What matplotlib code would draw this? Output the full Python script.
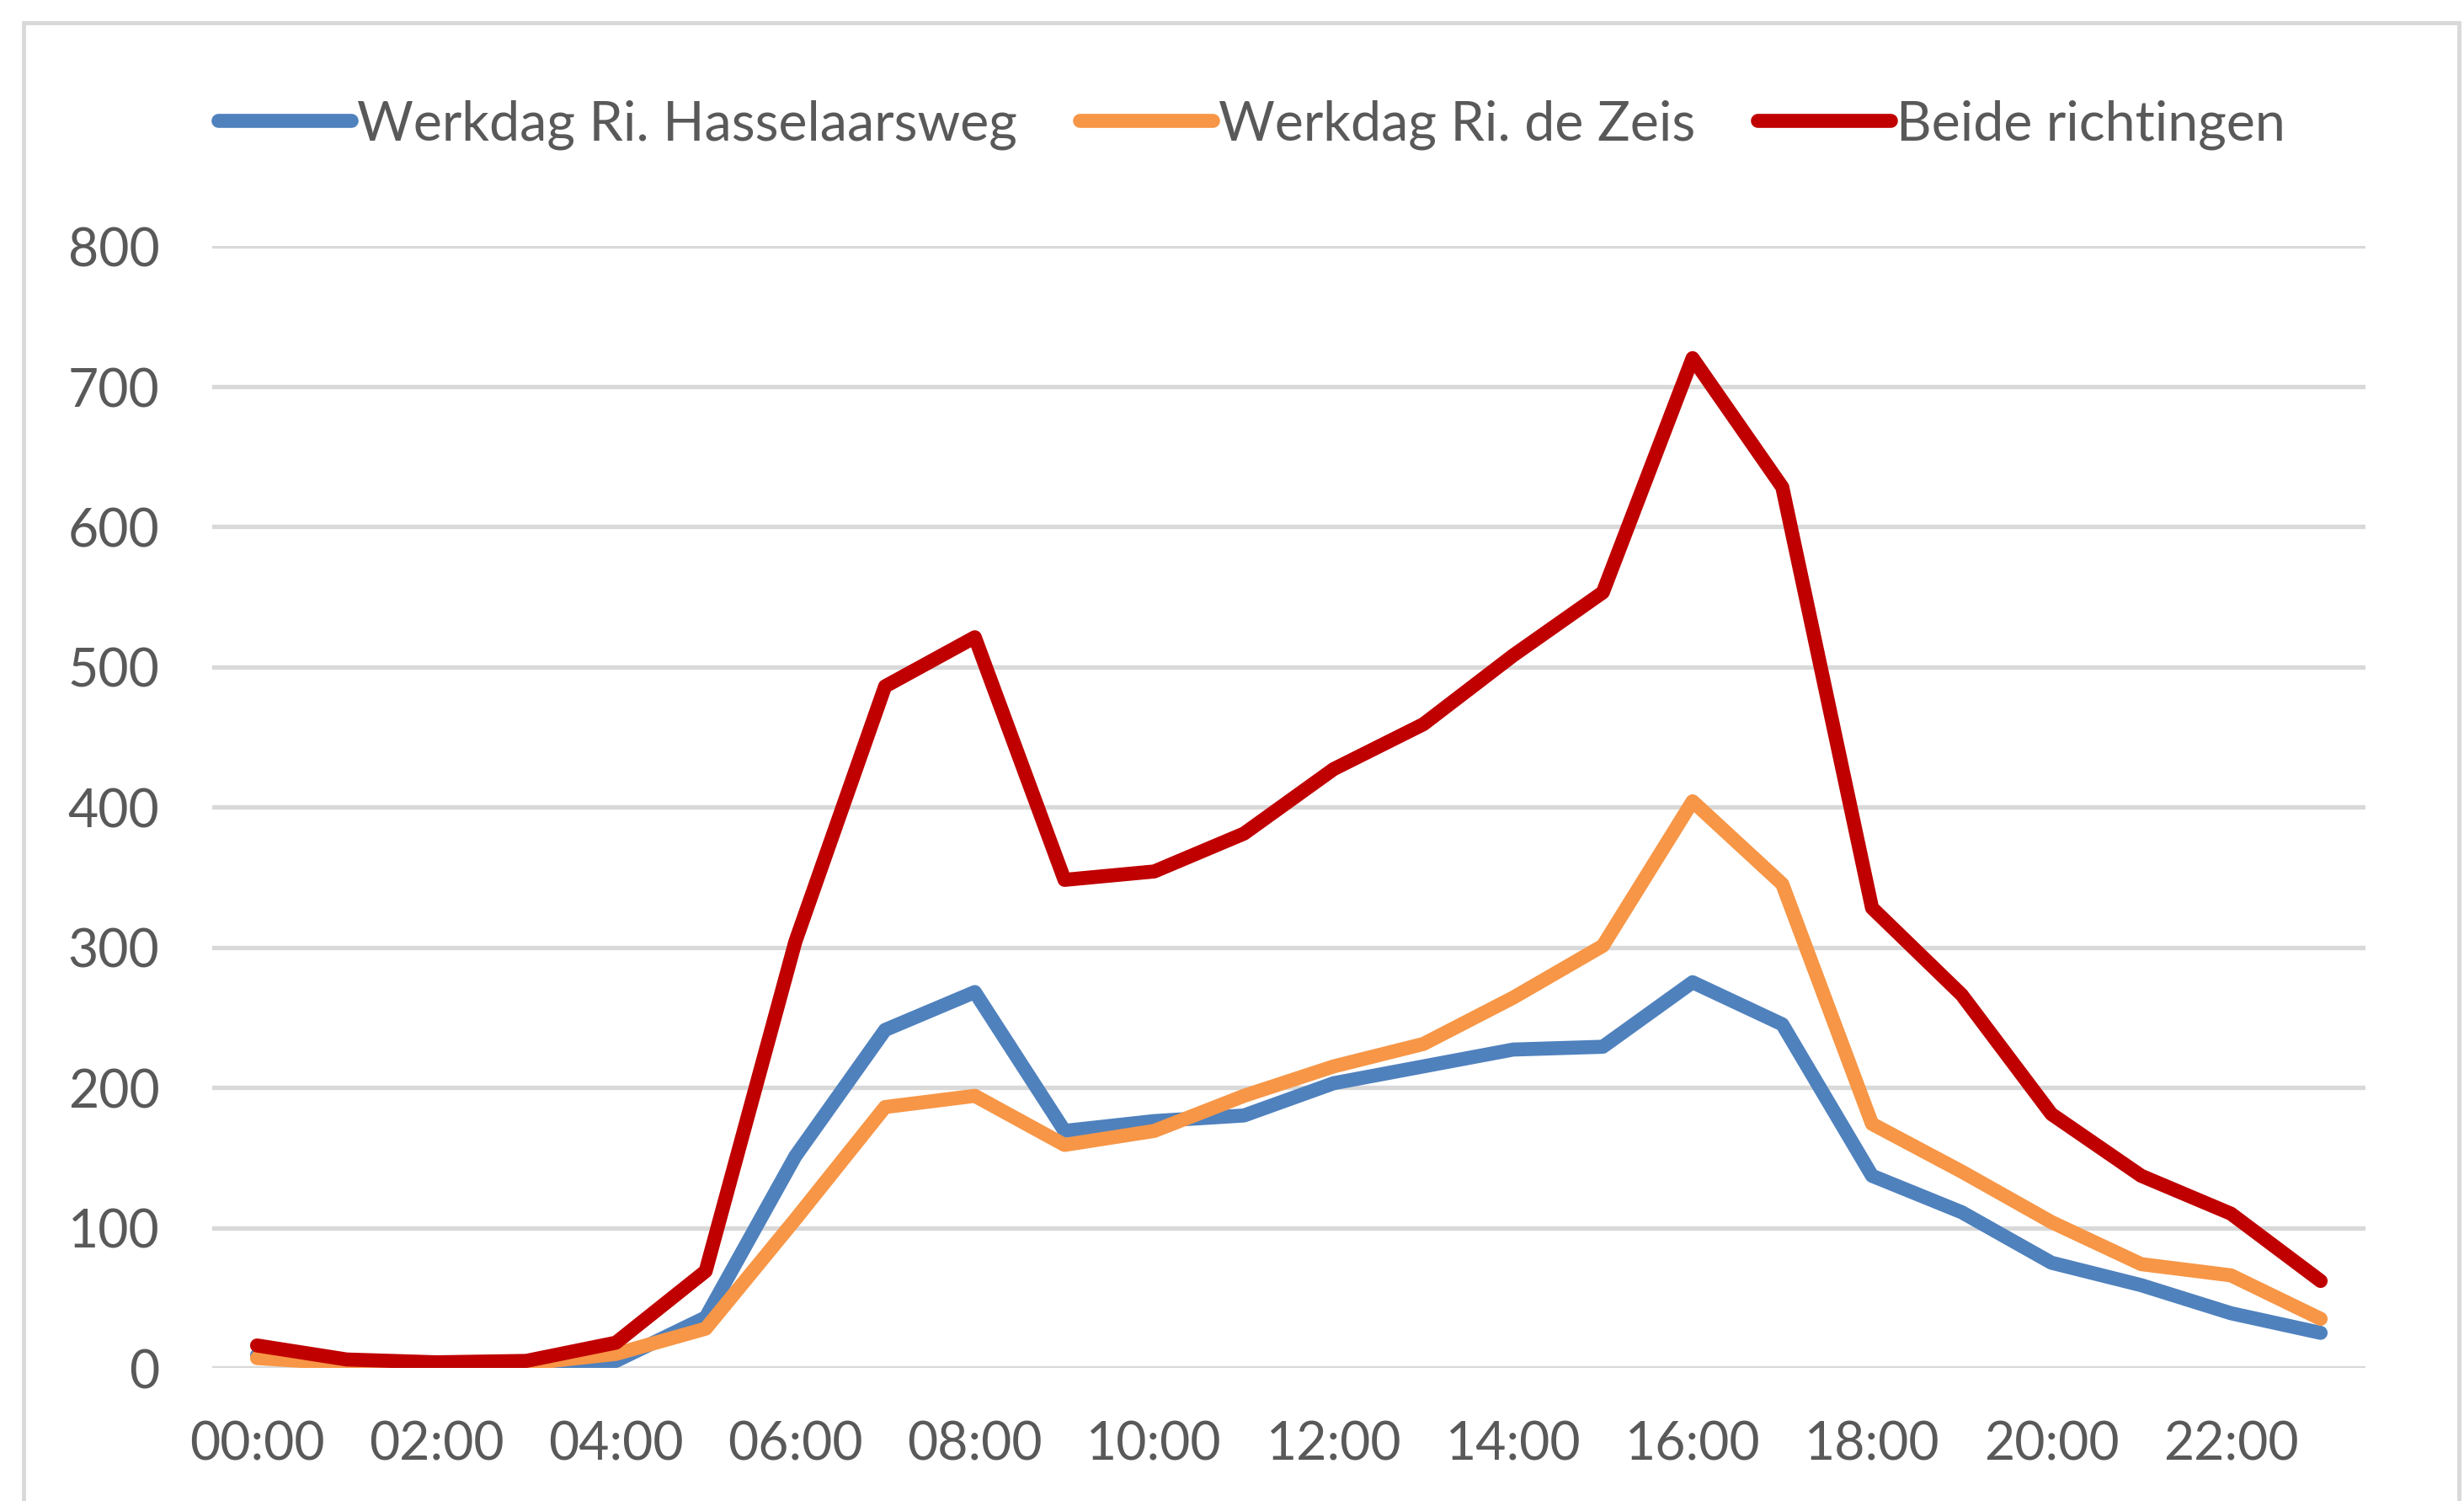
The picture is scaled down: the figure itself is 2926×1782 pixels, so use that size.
#!/usr/bin/env python3
"""Werkdag intensiteiten per uur, beide richtingen."""

import matplotlib
matplotlib.use("Agg")
import matplotlib.pyplot as plt
from matplotlib.patches import Rectangle

# uren van de dag (categorie-as)
hours = [f"{h:02d}:00" for h in range(24)]
tick_labels = [lbl if i % 2 == 0 else "" for i, lbl in enumerate(hours)]

hasselaarsweg = [9, 2, 1, 2, 5, 36, 151, 241, 268, 169, 176, 180,
                 203, 215, 227, 229, 275, 245, 137, 111, 75, 59, 39, 25]
de_zeis = [7, 3, 2, 3, 10, 28, 106, 186, 194, 159, 169, 194,
           215, 231, 264, 301, 404, 345, 174, 140, 104, 74, 66, 35]
beide = [16, 6, 4, 5, 18, 69, 304, 486, 521, 348, 354, 381,
         427, 459, 508, 553, 720, 628, 328, 266, 181, 137, 110, 62]

series_names = ["Werkdag Ri. Hasselaarsweg", "Werkdag Ri. de Zeis", "Beide richtingen"]
colors = ["#4F81BD", "#F79646", "#C00000"]

TEXT = "#595959"
GRID = "#D9D9D9"

plt.rcParams["font.family"] = ["Lato", "DejaVu Sans"]

fig = plt.figure(figsize=(29.26, 17.83), dpi=100)
fig.patch.set_facecolor("white")

# chart-area frame (bottom runs off the image)
fig.patches.append(Rectangle((28 / 2926, -0.05), (2920 - 28) / 2926, 1.05 - 28 / 1783,
                             transform=fig.transFigure, fill=False,
                             edgecolor=GRID, linewidth=3.5))

ax = fig.add_axes([252 / 2926, 1 - 1625 / 1783, (2809 - 252) / 2926, (1625 - 293) / 1783])

x = list(range(len(hours)))
for values, name, color in zip([hasselaarsweg, de_zeis, beide], series_names, colors):
    ax.plot(x, values, color=color, linewidth=12, label=name,
            solid_capstyle="round", solid_joinstyle="round")

ax.set_xlim(-0.5, len(hours) - 0.5)
ax.set_ylim(0, 800)
ax.set_yticks(range(0, 801, 100))
ax.set_xticks(x)
ax.set_xticklabels(tick_labels)

ax.grid(axis="y", color=GRID, linewidth=3.8)
ax.set_axisbelow(True)
for spine in ax.spines.values():
    spine.set_visible(False)

ax.tick_params(axis="both", length=0, labelsize=45, labelcolor=TEXT)
ax.tick_params(axis="y", pad=45)
ax.tick_params(axis="x", pad=44)

fig.legend(loc="center", bbox_to_anchor=(0.508, 0.917), ncol=3,
           frameon=False, fontsize=46.5, labelcolor=TEXT,
           handlelength=2.45, handletextpad=0.1, columnspacing=1.15)

fig.savefig("out.png", dpi=100, facecolor="white")
